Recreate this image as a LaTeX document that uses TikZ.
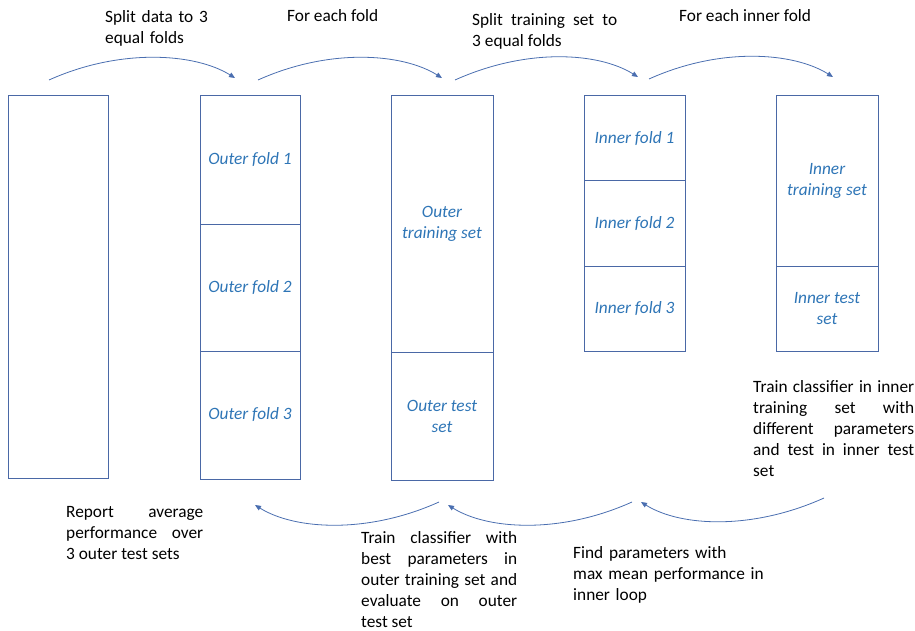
\documentclass[tikz,border=0pt]{standalone}
\usepackage{fontspec}
\setmainfont{Carlito}
\usetikzlibrary{arrows.meta,positioning}
\definecolor{boxblue}{HTML}{4A68A6}
\definecolor{flowblue}{HTML}{4A6EB0}
\definecolor{labelblue}{HTML}{2E75B6}
\newcommand{\notefont}{\fontsize{17.3}{21}\selectfont}
\hyphenpenalty=10000
\tolerance=10000

\tikzset{
  fold/.style={draw=boxblue, line width=1pt, inner sep=2pt, outer sep=0pt,
    align=center, text=labelblue, font=\notefont\itshape},
  note/.style={anchor=base west, inner sep=0pt, font=\notefont, align=left},
  flow/.style={draw=flowblue, line width=0.8pt, -{Triangle[length=6pt,width=5pt]}},
}

\begin{document}
\begin{tikzpicture}[x=1pt,y=-1pt]
  \useasboundingbox (0,0) rectangle (915,631);
  % whole data set
  \node[fold, minimum width=100, minimum height=382] (data) at (58,287) {};
  % outer folds
  \node[fold, minimum width=100, minimum height=128] (of1) at (250,160) {Outer fold 1};
  \node[fold, minimum width=100, minimum height=127, below=0pt of of1] (of2) {Outer fold 2};
  \node[fold, minimum width=100, minimum height=128, below=0pt of of2] (of3) {Outer fold 3};
  % outer training and test set
  \node[fold, minimum width=102, minimum height=256] (otrain) at (442,224) {Outer\\training set};
  \node[fold, minimum width=102, minimum height=128, below=0pt of otrain] (otest) {Outer test\\set};
  % inner folds
  \node[fold, minimum width=101, minimum height=85] (if1) at (634.5,138.5) {Inner fold 1};
  \node[fold, minimum width=101, minimum height=85, below=0pt of if1] (if2) {Inner fold 2};
  \node[fold, minimum width=101, minimum height=85, below=0pt of if2] (if3) {Inner fold 3};
  % inner training and test set
  \node[fold, minimum width=102, minimum height=170] (itrain) at (827,181) {Inner\\training set};
  \node[fold, minimum width=102, minimum height=85, below=0pt of itrain] (itest) {Inner test\\set};

  % steps on top
  \node[note, text width=130] (splitdata) at (105,22.7) {Split data to 3\\equal folds};
  \node[note] (eachfold) at (287,22) {For each fold};
  \node[note, text width=145, align=justify] (splittrain) at (472,26)
    {Split training set to\linebreak 3 equal folds};
  \node[note] (eachinner) at (679,22) {For each inner fold};
  % steps below
  \node[note, text width=161, align=justify] (traininner) at (753,392)
    {Train classifier in inner\linebreak training set with\linebreak different parameters\linebreak and test in inner test\linebreak set};
  \node[note, text width=200] (findparam) at (573,558) {Find parameters with\\max mean performance in\\inner loop};
  \node[note, text width=156, align=justify] (trainbest) at (361,543)
    {Train classifier with\linebreak best parameters in\linebreak outer training set and\linebreak evaluate on outer\linebreak test set};
  \node[note, text width=137, align=justify] (report) at (66,517)
    {Report average\linebreak performance over\linebreak 3 outer test sets};

  % arrow ends
  \coordinate (s1) at (49,80);   \coordinate (e1) at (235,78);
  \coordinate (s2) at (258,80);  \coordinate (e2) at (442,78);
  \coordinate (s3) at (455,80);  \coordinate (e3) at (638,77);
  \coordinate (s4) at (649,79);  \coordinate (e4) at (833,77);
  \coordinate (s5) at (824,498); \coordinate (e5) at (641,502);
  \coordinate (s6) at (632,502); \coordinate (e6) at (448,505);
  \coordinate (s7) at (439,502); \coordinate (e7) at (255,505);
  \foreach \i in {1,...,4}
    \draw[flow] (s\i) .. controls +(71,-32) and +(-40,-25) .. (e\i);
  \foreach \i in {5,6,7}
    \draw[flow] (s\i) .. controls +(-71,32) and +(40,25) .. (e\i);
\end{tikzpicture}
\end{document}
